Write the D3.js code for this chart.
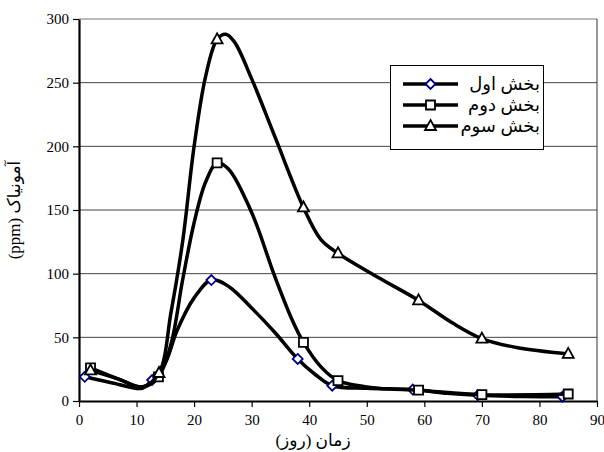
<!DOCTYPE html>
<html>
<head>
<meta charset="utf-8">
<script src="https://cdn.jsdelivr.net/npm/d3@7"></script>
<style>
body { margin: 0; background: white; }
svg text { font-family: "Liberation Serif", "DejaVu Sans", serif; fill: black; }
</style>
</head>
<body>
<script>
const width = 604
const height = 452

// days, ammonia (ppm), and whether a marker sits on that point
const days1 = [1, 6, 11, 12.7, 15, 17, 20, 23, 26, 30, 34, 38, 41, 44, 50, 58, 64, 69.3, 77, 84]
const amm1  = [19, 14, 10, 16.5, 30, 55, 81, 95, 90, 73, 54, 33, 21, 12, 10, 9, 6, 4.5, 3.5, 3.4]
const mark1 = [1, 0, 0, 1, 0, 0, 0, 1, 0, 0, 0, 1, 0, 1, 0, 1, 0, 1, 0, 1]

const days2 = [2, 7, 11, 13.8, 16, 18, 20, 22, 24, 26, 30, 34, 37, 39, 42, 45, 52, 59, 70, 85]
const amm2  = [26, 17, 11, 19, 45, 95, 140, 172, 187, 182, 148, 98, 64, 46, 27, 16, 10, 8.5, 5, 5.5]
const mark2 = [1, 0, 0, 1, 0, 0, 0, 0, 1, 0, 0, 0, 0, 1, 0, 1, 0, 1, 1, 1]

const days3 = [2, 7, 11, 13.9, 16, 18, 20, 22, 24, 25.5, 27, 30, 34, 39, 42, 45, 52, 59, 65, 70, 76, 85]
const amm3  = [24, 17, 11, 22, 70, 125, 200, 255, 284, 288, 282, 253, 208, 152, 127, 116, 97, 79, 61, 49, 42, 37]
const mark3 = [1, 0, 0, 1, 0, 0, 0, 0, 1, 0, 0, 0, 0, 1, 0, 1, 0, 1, 0, 1, 0, 1]

const seriesNames = ["بخش اول", "بخش دوم", "بخش سوم"]
const xTicks = [0, 10, 20, 30, 40, 50, 60, 70, 80, 90]
const yTicks = [0, 50, 100, 150, 200, 250, 300]
const xTitle = "زمان (روز)"
const yTitle = "آمونیاک (ppm)"

const plot = {left: 79, right: 597, top: 19, bottom: 401}

const x = d3.scaleLinear().domain([0, 90]).range([plot.left, plot.right])
const y = d3.scaleLinear().domain([0, 300]).range([plot.bottom, plot.top])

const svg = d3.select("body").append("svg")
    .attr("width", width)
    .attr("height", height)

// gridlines
svg.append("g")
    .selectAll("line")
    .data(yTicks.filter(v => v > 0))
    .enter()
    .append("line")
    .attr("x1", plot.left)
    .attr("x2", plot.right)
    .attr("y1", v => y(v))
    .attr("y2", v => y(v))
    .attr("stroke", v => v == 300 ? "#777" : "#444")
    .attr("stroke-width", 1)

// right border
svg.append("line")
    .attr("x1", plot.right).attr("x2", plot.right)
    .attr("y1", plot.top).attr("y2", plot.bottom)
    .attr("stroke", "#333")

const yAxis = svg.append("g")
    .attr("transform", `translate(${plot.left},0)`)
    .call(d3.axisLeft(y).tickValues(yTicks).tickSize(6).tickSizeOuter(0).tickPadding(4))
const xAxis = svg.append("g")
    .attr("transform", `translate(0,${plot.bottom})`)
    .call(d3.axisBottom(x).tickValues(xTicks).tickSize(6).tickSizeOuter(0).tickPadding(7))
for (const ax of [xAxis, yAxis]) {
    ax.select(".domain").attr("stroke-width", 2.2)
    ax.selectAll(".tick line").attr("stroke-width", 1.2)
    ax.selectAll("text").style("font-size", "15px").attr("fill", "black")
}

const makeSeries = (days, amm, mark) => days.map((d, i) => ({x: d, y: amm[i], m: mark[i]}))
const series = [
    {pts: makeSeries(days1, amm1, mark1), shape: "diamond", stroke: "#000080"},
    {pts: makeSeries(days2, amm2, mark2), shape: "square", stroke: "black"},
    {pts: makeSeries(days3, amm3, mark3), shape: "triangle", stroke: "black"},
]

const line = d3.line()
    .x(p => x(p.x))
    .y(p => y(p.y))
    .curve(d3.curveCatmullRom.alpha(0.5))

const markerPath = shape => {
    if (shape == "diamond") return "M0,-5 L5,0 L0,5 L-5,0 Z"
    if (shape == "square") return "M-4.5,-4.5 L4.5,-4.5 L4.5,4.5 L-4.5,4.5 Z"
    return "M0,-6 L5.5,4 L-5.5,4 Z"
}

const drawMarker = (g, shape, stroke) => g.append("path")
    .attr("d", markerPath(shape))
    .attr("fill", "white")
    .attr("stroke", stroke)
    .attr("stroke-width", 1.8)

series.forEach(s => {
    const g = svg.append("g")
    g.append("path")
        .attr("d", line(s.pts))
        .attr("fill", "none")
        .attr("stroke", "black")
        .attr("stroke-width", 3.5)
        .attr("stroke-linejoin", "round")
    g.selectAll("g.mk")
        .data(s.pts.filter(p => p.m))
        .enter()
        .append("g")
        .attr("class", "mk")
        .attr("transform", p => `translate(${x(p.x)},${y(p.y)})`)
        .each(function() { drawMarker(d3.select(this), s.shape, s.stroke) })
})

// legend
const legend = svg.append("g")
legend.append("rect")
    .attr("x", 390.5).attr("y", 65.5)
    .attr("width", 153).attr("height", 84)
    .attr("fill", "white")
    .attr("stroke", "black")
seriesNames.forEach((name, i) => {
    const ly = 84 + i * 21
    legend.append("line")
        .attr("x1", 403).attr("x2", 458)
        .attr("y1", ly).attr("y2", ly)
        .attr("stroke", "black")
        .attr("stroke-width", 3.5)
    const mg = legend.append("g").attr("transform", `translate(430.5,${ly})`)
    drawMarker(mg, series[i].shape, series[i].stroke)
    legend.append("text")
        .attr("x", 540).attr("y", ly + 6)
        .attr("text-anchor", "end")
        .style("font-size", "18px")
        .text(name)
})

svg.append("text")
    .attr("x", 313).attr("y", 446)
    .attr("text-anchor", "middle")
    .attr("direction", "rtl")
    .style("font-size", "17px")
    .text(xTitle)

svg.append("text")
    .attr("transform", "translate(20,210) rotate(-90)")
    .attr("text-anchor", "middle")
    .attr("direction", "rtl")
    .style("font-size", "17px")
    .text(yTitle)
</script>
</body>
</html>
